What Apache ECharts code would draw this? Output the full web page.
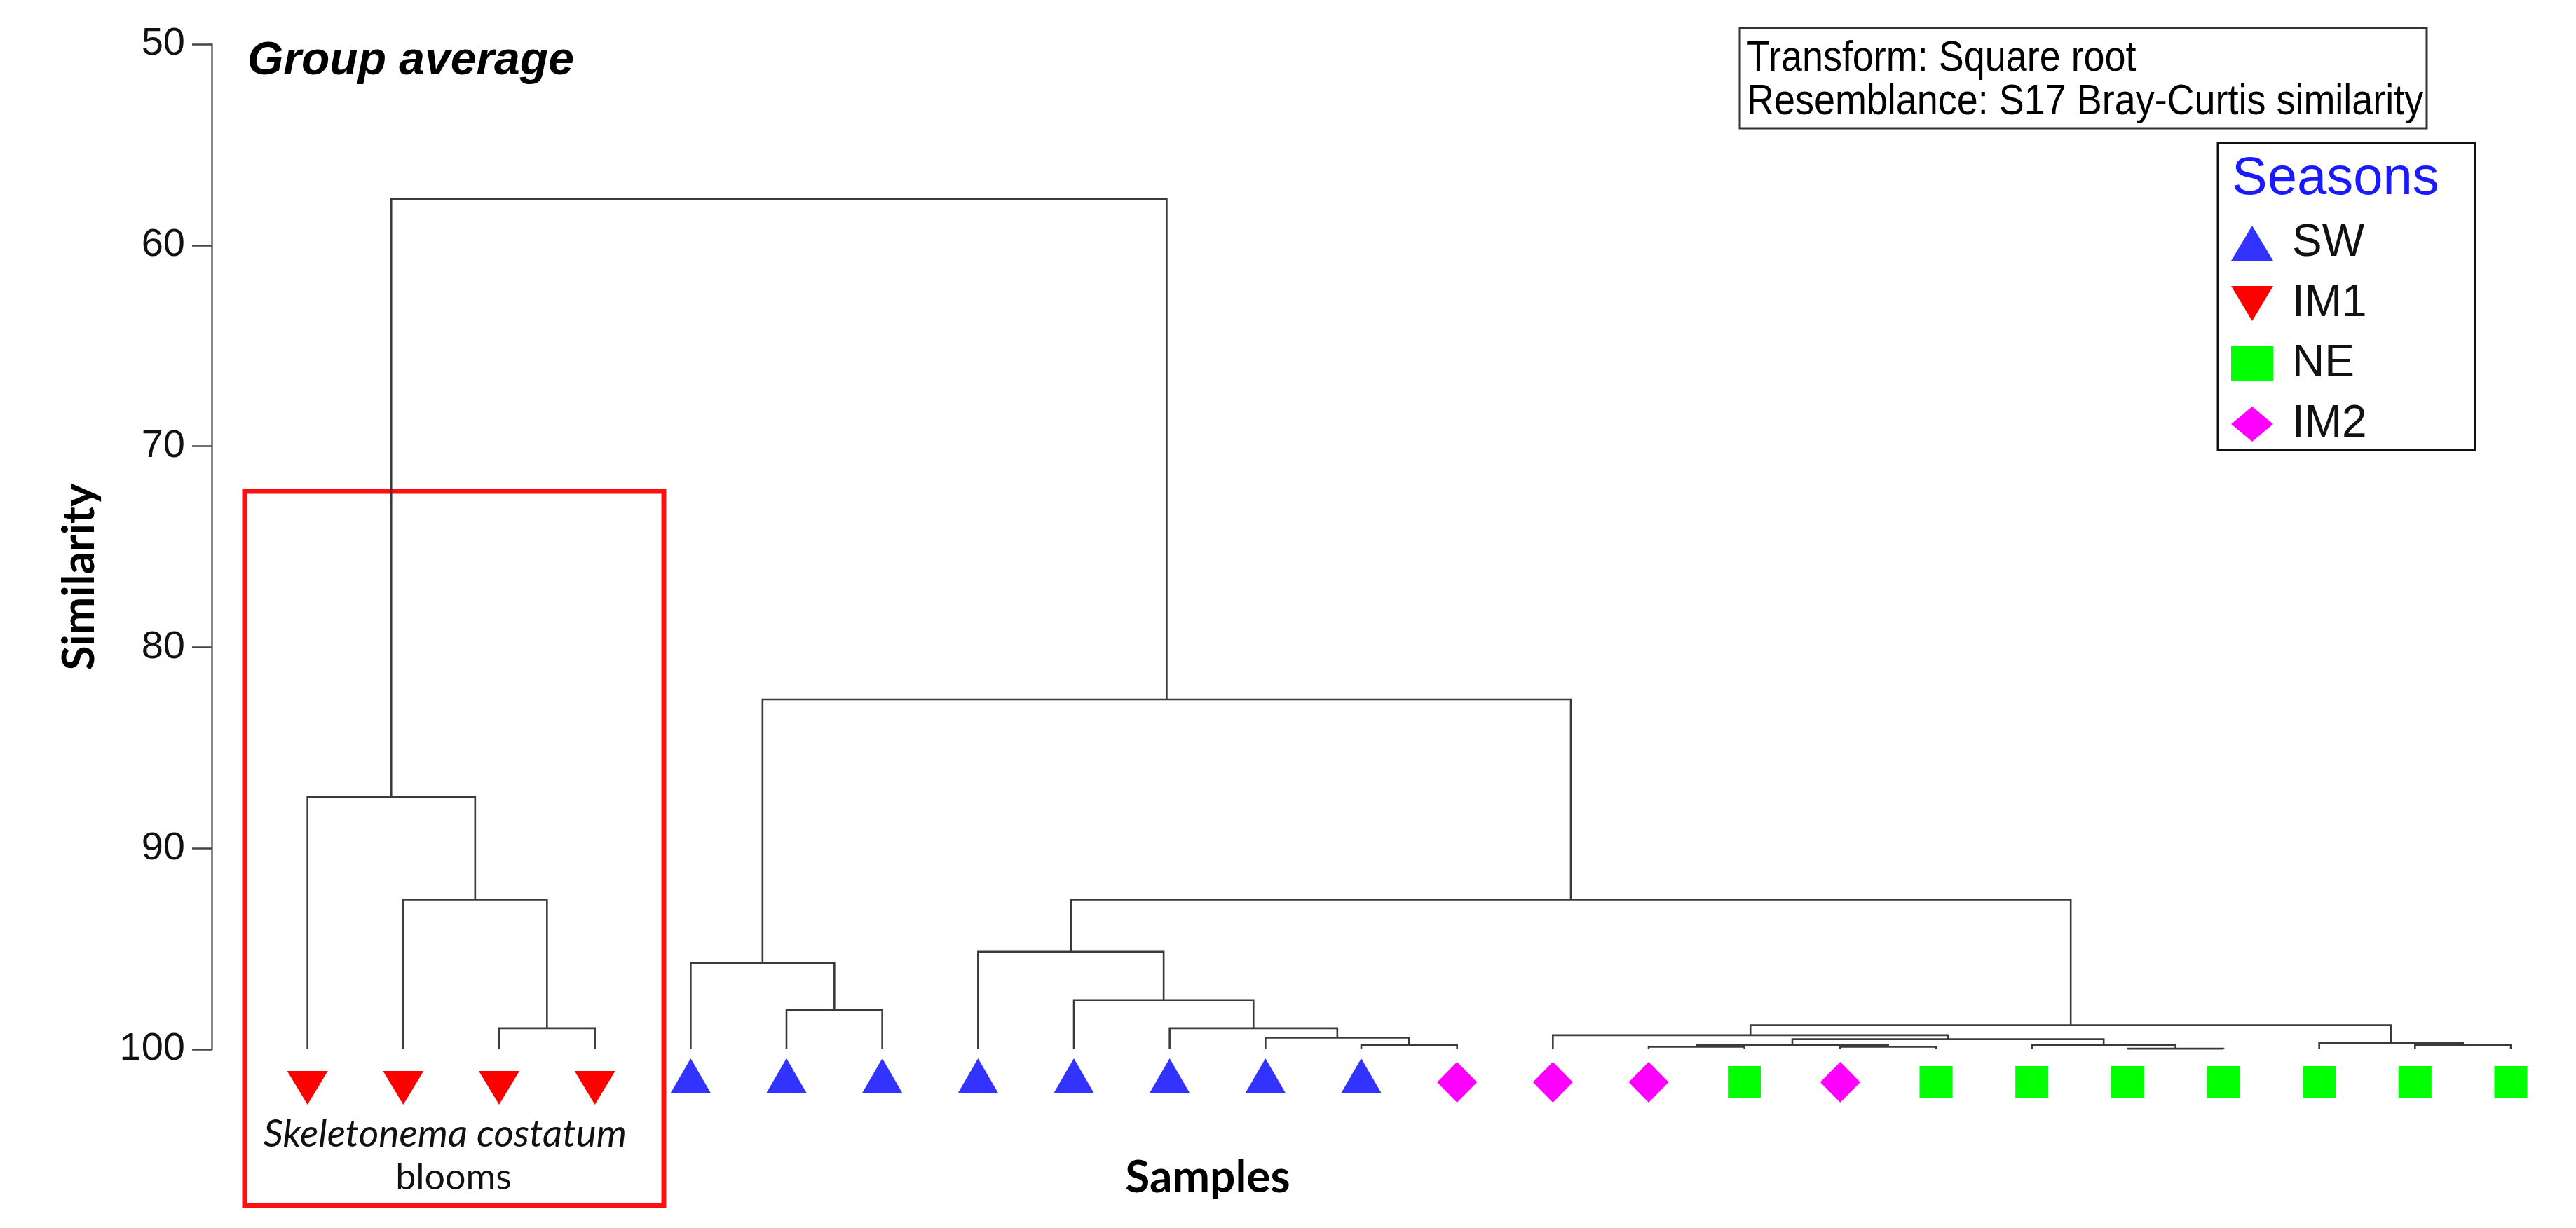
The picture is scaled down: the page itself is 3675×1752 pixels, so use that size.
<!DOCTYPE html>
<html>
<head>
<meta charset="utf-8">
<script src="https://cdn.jsdelivr.net/npm/echarts@6/dist/echarts.min.js"></script>
<style>html,body{margin:0;padding:0;background:#fff}#c{width:3675px;height:1752px}</style>
</head>
<body>
<div id="c"></div>
<script>
// ---- data ----
const sampleSeasons = ['IM1','IM1','IM1','IM1','SW','SW','SW','SW','SW','SW','SW','SW',
                       'IM2','IM2','IM2','NE','IM2','NE','NE','NE','NE','NE','NE','NE'];
// merges in creation order: ids < 24 are samples, id 24+k is the cluster made by merge k
const mergeA   = [2, 1, 0, 5, 4, 11, 10, 9, 8, 7, 14, 16, 34, 19, 18, 36, 13, 22, 21, 40, 33, 28, 26];
const mergeB   = [3, 24, 25, 6, 27, 12, 29, 30, 31, 32, 15, 17, 35, 20, 37, 38, 39, 23, 41, 42, 43, 44, 45];
const mergeSim = [98.95, 92.55, 87.45, 98.05, 95.7, 99.79, 99.42, 98.95, 97.55, 95.15,
                  99.88, 99.88, 99.79, 99.97, 99.79, 99.5, 99.3, 99.79, 99.7, 98.8, 92.55, 82.6, 57.7];
const yTicks = [50, 60, 70, 80, 90, 100];
const seasonNames = ['SW', 'IM1', 'NE', 'IM2'];

// ---- styles ----
const seasonStyle = {
  SW:  {symbol: 'triangle', color: '#3333ff', size: [58, 50], offset: [0, 38]},
  IM1: {symbol: 'path://M0,0 L12,0 L6,10 Z', color: '#ff0000', size: [58, 48], offset: [0, 55]},
  NE:  {symbol: 'rect', color: '#00ff00', size: [47, 46], offset: [0, 47]},
  IM2: {symbol: 'diamond', color: '#ff00ff', size: [57, 58], offset: [0, 47]}
};
const sans = '"Liberation Sans", Arial, sans-serif';

// ---- build tree geometry (x = sample order, y = similarity) ----
const n = sampleSeasons.length;
const nodeX = [], nodeY = [];
for (let i = 0; i < n; i++) { nodeX.push(i + 1); nodeY.push(100); }
const links = [];
for (let k = 0; k < mergeA.length; k++) {
  const a = mergeA[k], b = mergeB[k], h = mergeSim[k];
  links.push({coords: [[nodeX[a], nodeY[a]], [nodeX[a], h], [nodeX[b], h], [nodeX[b], nodeY[b]]]});
  nodeX.push((nodeX[a] + nodeX[b]) / 2);
  nodeY.push(h);
}

const series = [{
  type: 'lines', coordinateSystem: 'cartesian2d', polyline: true, silent: true,
  lineStyle: {color: '#3a3a3a', width: 2.6, opacity: 1},
  data: links, z: 2
}];
seasonNames.forEach(s => {
  const st = seasonStyle[s];
  series.push({
    name: s, type: 'scatter', clip: false, silent: true,
    symbol: st.symbol, symbolSize: st.size, symbolOffset: st.offset,
    itemStyle: {color: st.color, opacity: 1},
    data: sampleSeasons.map((v, i) => v === s ? [i + 1, 100] : null).filter(d => d),
    z: 3
  });
});

const chart = echarts.init(document.getElementById('c'), null, {renderer: 'canvas'});
chart.setOption({
  animation: false,
  backgroundColor: '#fff',
  grid: {left: 302, top: 63, width: 3280, height: 1434},
  xAxis: {type: 'value', min: 0, max: 24, show: false},
  yAxis: {
    type: 'value', inverse: true, min: yTicks[0], max: yTicks[yTicks.length - 1], interval: 10,
    axisLine: {show: true, lineStyle: {color: '#8a8a8a', width: 3}},
    axisTick: {show: true, length: 28, lineStyle: {color: '#444', width: 2.5}},
    axisLabel: {fontSize: 56, fontFamily: sans, color: '#111', margin: 38},
    splitLine: {show: false}
  },
  legend: {
    data: seasonNames, orient: 'vertical', left: 3178, top: 310,
    itemWidth: 60, itemHeight: 50, itemGap: 22,
    textStyle: {fontSize: 64, fontFamily: sans, color: '#111', padding: [0, 0, 0, 22]},
    selectedMode: false
  },
  series: series,
  graphic: [
    {type: 'text', left: 353, top: 55, style: {text: 'Group average', font: 'italic bold 66px ' + sans, fill: '#000'}},
    {type: 'rect', shape: {x: 2482, y: 40, width: 980, height: 143}, style: {fill: '#fff', stroke: '#333', lineWidth: 3}},
    {type: 'text', x: 2492, y: 84, scaleX: 0.87, style: {text: 'Transform: Square root', font: '62px ' + sans, fill: '#000', textVerticalAlign: 'middle'}},
    {type: 'text', x: 2492, y: 146, scaleX: 0.87, style: {text: 'Resemblance: S17 Bray-Curtis similarity', font: '62px ' + sans, fill: '#000', textVerticalAlign: 'middle'}},
    {type: 'rect', shape: {x: 3164, y: 204, width: 367, height: 438}, style: {fill: 'none', stroke: '#111', lineWidth: 3}},
    {type: 'text', x: 3184, y: 256, style: {text: 'Seasons', font: '76px ' + sans, fill: '#1a1aff', textVerticalAlign: 'middle'}},
    {type: 'rect', shape: {x: 349, y: 701, width: 598, height: 1019}, style: {fill: 'none', stroke: '#ff1010', lineWidth: 7}},
    {type: 'text', x: 635, y: 1618, style: {text: 'Skeletonema costatum', font: 'italic 55px Lato, sans-serif', fill: '#111', textAlign: 'center', textVerticalAlign: 'middle'}},
    {type: 'text', x: 647, y: 1680, style: {text: 'blooms', font: '52px Lato, sans-serif', fill: '#111', textAlign: 'center', textVerticalAlign: 'middle'}},
    {type: 'text', x: 1723, y: 1680, style: {text: 'Samples', font: 'bold 64px Lato, sans-serif', fill: '#000', textAlign: 'center', textVerticalAlign: 'middle'}},
    {type: 'text', x: 113, y: 823, rotation: Math.PI / 2, style: {text: 'Similarity', font: 'bold 64px Lato, sans-serif', fill: '#000', textAlign: 'center', textVerticalAlign: 'middle'}}
  ]
});
</script>
</body>
</html>
